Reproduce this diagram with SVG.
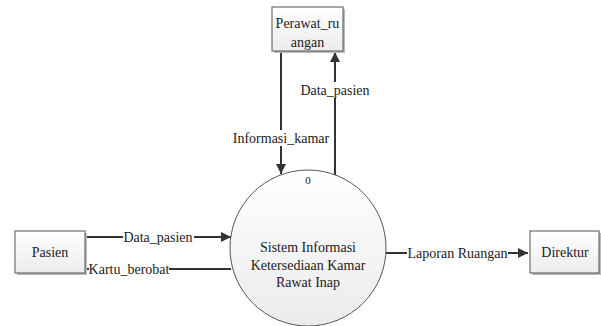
<svg xmlns="http://www.w3.org/2000/svg" width="601" height="326" viewBox="0 0 601 326" font-family="'Liberation Serif', 'Times New Roman', 'DejaVu Serif', serif">
<style>
text{font-family:'Liberation Serif','Times New Roman','DejaVu Serif',serif;font-size:14px;fill:#222;}
.box{fill:url(#gb);stroke:#555;stroke-width:1;}
.shadow{fill:#bbb;}
.line{stroke:#333;stroke-width:2;fill:none;}
.lbl{text-anchor:middle;}
</style>
<defs>
<linearGradient id="gb" x1="0" y1="0" x2="0" y2="1">
<stop offset="0" stop-color="#ffffff"/>
<stop offset="1" stop-color="#ececec"/>
</linearGradient>
<linearGradient id="gc" x1="0" y1="0" x2="0" y2="1">
<stop offset="0" stop-color="#ffffff"/>
<stop offset="1" stop-color="#ebebeb"/>
</linearGradient>
<marker id="arr" viewBox="0 0 10 10" refX="10" refY="5" markerWidth="5" markerHeight="5" orient="auto" markerUnits="strokeWidth">
<path d="M0,0 L10,5 L0,10 z" fill="#333"/>
</marker>
</defs>
<rect width="601" height="326" fill="#fff"/>
<g id="connectors">
<line class="line" x1="281" y1="51" x2="281" y2="174" marker-end="url(#arr)"/>
<line class="line" x1="335" y1="175" x2="335" y2="52" marker-end="url(#arr)"/>
<line class="line" x1="85" y1="237" x2="231" y2="237" marker-end="url(#arr)"/>
<line class="line" x1="231" y1="269" x2="85" y2="269"/>
<line class="line" x1="386" y1="253" x2="528" y2="253" marker-end="url(#arr)"/>
<rect x="232" y="130" width="98" height="16" fill="#fff"/>
<text class="lbl" x="281" y="143">Informasi_kamar</text>
<rect x="300" y="82" width="70" height="16" fill="#fff"/>
<text class="lbl" x="335" y="95">Data_pasien</text>
<rect x="123" y="229" width="71" height="16" fill="#fff"/>
<text class="lbl" x="158" y="242">Data_pasien</text>
<rect x="89" y="261" width="80" height="16" fill="#fff"/>
<text class="lbl" x="129" y="274">Kartu_berobat</text>
<rect x="407" y="245" width="101" height="16" fill="#fff"/>
<text class="lbl" x="457.5" y="258">Laporan Ruangan</text>
</g>
<g id="perawat">
<rect class="shadow" x="274" y="9" width="71" height="44"/>
<rect class="box" x="272" y="7" width="71" height="44"/>
<text class="lbl" x="307.5" y="28">Perawat_ru</text>
<text class="lbl" x="307.5" y="47">angan</text>
</g>
<g id="pasien">
<rect class="shadow" x="17" y="233" width="70" height="42"/>
<rect class="box" x="15" y="231" width="70" height="42"/>
<text class="lbl" x="50" y="257">Pasien</text>
</g>
<g id="direktur">
<rect class="shadow" x="532" y="233" width="69" height="42"/>
<rect class="box" x="530" y="231" width="69" height="42"/>
<text class="lbl" x="565" y="257">Direktur</text>
</g>
<g id="proses">
<circle cx="308" cy="248" r="78" fill="url(#gc)" stroke="#555" stroke-width="1"/>
<text class="lbl" x="308" y="184" style="font-size:11px">0</text>
<text class="lbl" x="308" y="252">Sistem Informasi</text>
<text class="lbl" x="308" y="270">Ketersediaan Kamar</text>
<text class="lbl" x="308" y="287">Rawat Inap</text>
</g>
</svg>
